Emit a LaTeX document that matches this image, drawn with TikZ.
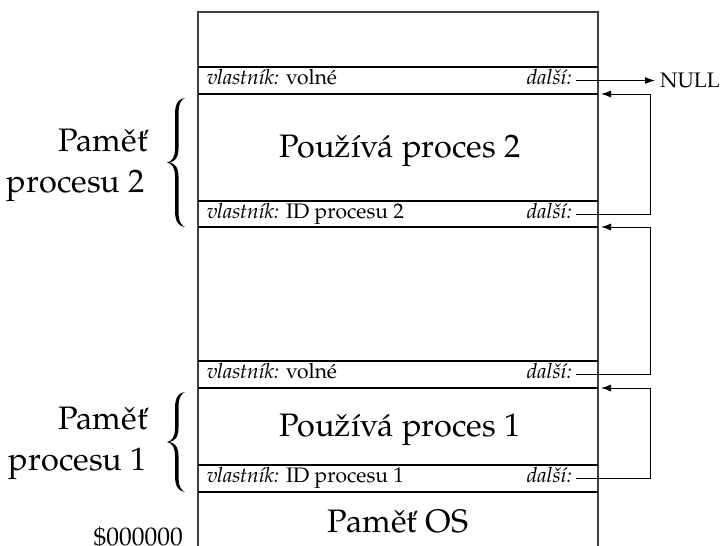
\documentclass[tikz,border=0pt]{standalone}
\usepackage{fontspec}
\setmainfont{TeX Gyre Pagella}
\usetikzlibrary{arrows.meta}
\begin{document}
\begin{tikzpicture}[x=1pt,y=-1pt,
  frame/.style={draw=black!75, line width=1.1pt},
  sep/.style={draw=black, line width=1.7pt},
  small/.style={font=\fontsize{21}{24}\selectfont, inner sep=0pt},
  big/.style={font=\fontsize{32.5}{40}\selectfont, inner sep=0pt},
  lbl/.style={font=\fontsize{32.5}{40}\selectfont, inner sep=0pt, anchor=base east},
  nul/.style={font=\fontsize{21}{24}\selectfont, inner ysep=0pt, inner xsep=5pt, anchor=west},
  ptr/.style={draw=black, line width=1pt, -{Latex[length=10pt,width=7pt]}},
  brace/.style={fill=black}]
\useasboundingbox (0,0) rectangle (723,546);

% frame
\draw[frame] (198,546) -- (198,12) -- (598,12) -- (598,546);

% header separators
\foreach \t/\b in {67/94, 201/227, 361/388, 465/492}{
  \draw[sep] (198,\t) -- (598,\t);
  \draw[sep] (198,\b) -- (598,\b);
}

% header texts
\node[small, anchor=base west] (o1) at (207,84) {\textit{vlastník:} volné};
\node[small, anchor=base east] (d1) at (572,84) {\textit{další:}};
\node[small, anchor=base west] (o2) at (207,218) {\textit{vlastník:} ID procesu 2};
\node[small, anchor=base east] (d2) at (572,218) {\textit{další:}};
\node[small, anchor=base west] (o3) at (207,378) {\textit{vlastník:} volné};
\node[small, anchor=base east] (d3) at (572,378) {\textit{další:}};
\node[small, anchor=base west] (o4) at (207,482) {\textit{vlastník:} ID procesu 1};
\node[small, anchor=base east] (d4) at (572,482) {\textit{další:}};

% block texts
\node[big, anchor=base] (u2) at (400,157) {Používá proces 2};
\node[big, anchor=base] (u1) at (400,436) {Používá proces 1};
\node[big, anchor=base] (os) at (398,532) {Paměť OS};

% side labels
\node[lbl] (l2a) at (148,151) {Paměť};
\node[lbl] (l2b) at (145,192) {procesu 2};
\node[lbl] (l1a) at (148,429) {Paměť};
\node[lbl] (l1b) at (147,470) {procesu 1};
\node[font=\fontsize{25.5}{28}\selectfont, inner sep=0pt, anchor=base east] (addr) at (183,545) {\$000000};

% braces
\foreach \yt/\h in {98/64.5, 392/50}{
  \fill[brace]
    (185,\yt) .. controls (179,\yt+0.5) and (175,\yt+5) .. (175,\yt+16)
    -- (175,\yt+\h-14)
    .. controls (175,\yt+\h-5) and (172,\yt+\h-1) .. (167,\yt+\h)
    .. controls (172,\yt+\h+1) and (175,\yt+\h+5) .. (175,\yt+\h+14)
    -- (175,\yt+2*\h-16)
    .. controls (175,\yt+2*\h-5) and (179,\yt+2*\h-0.5) .. (185,\yt+2*\h)
    .. controls (181,\yt+2*\h-1.5) and (178.5,\yt+2*\h-6) .. (178.5,\yt+2*\h-16)
    -- (178.5,\yt+\h+14)
    .. controls (178.5,\yt+\h+4) and (174,\yt+\h+0.8) .. (169.5,\yt+\h)
    .. controls (174,\yt+\h-0.8) and (178.5,\yt+\h-4) .. (178.5,\yt+\h-14)
    -- (178.5,\yt+16)
    .. controls (178.5,\yt+6) and (181,\yt+1.5) .. (185,\yt)
    -- cycle;
}

% pointer coordinates
\coordinate (p1) at (576,80.5);
\coordinate (p2) at (576,214);
\coordinate (p3) at (576,374.5);
\coordinate (p4) at (576,478.5);
\coordinate (q1) at (601,94);
\coordinate (q2) at (601,227);
\coordinate (q3) at (601,388);

\node[nul] (null) at (655,80.5) {NULL};

\draw[ptr] (p1) -- (null.west);
\draw[ptr] (p2) -- ++(74,0) |- (q1);
\draw[ptr] (p3) -- ++(74,0) |- (q2);
\draw[ptr] (p4) -- ++(74,0) |- (q3);
\end{tikzpicture}
\end{document}
